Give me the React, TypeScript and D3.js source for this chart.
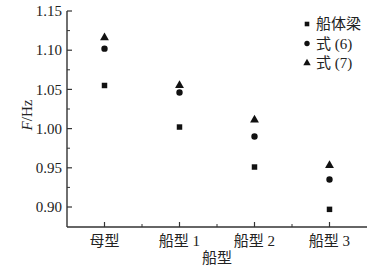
import React from 'react';
import * as d3 from 'd3';

const categories = ['母型', '船型 1', '船型 2', '船型 3'];
const seriesNames = ['船体梁', '式 (6)', '式 (7)'];
const hullBeam = [1.055, 1.002, 0.951, 0.897];
const formula6 = [1.102, 1.046, 0.99, 0.935];
const formula7 = [1.116, 1.055, 1.011, 0.953];
const yTicks = [0.9, 0.95, 1.0, 1.05, 1.1, 1.15];
const yMinorTicks = [0.925, 0.975, 1.025, 1.075, 1.125];

const W = 386;
const H = 268;
const margin = { left: 67, right: 19, top: 11, bottom: 41 };
const font = '"Liberation Serif", "Noto Sans CJK SC", serif';

export default function App() {
  const x = d3
    .scaleBand()
    .domain(categories)
    .range([margin.left, W - margin.right])
    .padding(0);
  const y = d3
    .scaleLinear()
    .domain([0.8745, 1.15])
    .range([H - margin.bottom, margin.top]);

  const shapes = [d3.symbolSquare, d3.symbolCircle, d3.symbolTriangle];
  const sizes = [30, 32, 34];
  const series = [hullBeam, formula6, formula7];
  const sym = (i: number) => d3.symbol().type(shapes[i]).size(sizes[i])() as string;
  const legSym = (i: number) => d3.symbol().type(shapes[i]).size(sizes[i] * 0.7)() as string;

  const x0 = margin.left;
  const x1 = W - margin.right;
  const yb = H - margin.bottom;
  const axisColor = '#333';
  const bounds = categories.map((c) => x(c)!).concat([x1]);

  return (
    <svg width={W} height={H} style={{ position: 'absolute', left: 0, top: 0, background: '#fff' }}>
      {/* axes */}
      <line x1={x0} x2={x0} y1={margin.top} y2={yb} stroke={axisColor} strokeWidth={1.4} />
      <line x1={x0} x2={x1} y1={yb} y2={yb} stroke={axisColor} strokeWidth={1.4} />
      {yTicks.map((t) => (
        <g key={t}>
          <line x1={x0} x2={x0 + 5} y1={y(t)} y2={y(t)} stroke={axisColor} strokeWidth={1.2} />
          <text x={x0 - 5} y={y(t)} dy="0.35em" textAnchor="end" fontFamily={font} fontSize={15} fill="#222">
            {t.toFixed(2)}
          </text>
        </g>
      ))}
      {yMinorTicks.map((t) => (
        <line key={t} x1={x0} x2={x0 + 3} y1={y(t)} y2={y(t)} stroke={axisColor} strokeWidth={1} />
      ))}
      {categories.map((c) => {
        const cx = x(c)! + x.bandwidth() / 2;
        return (
          <g key={c}>
            <line x1={cx} x2={cx} y1={yb} y2={yb - 5} stroke={axisColor} strokeWidth={1.2} />
            <text x={cx} y={yb + 14} dy="0.35em" textAnchor="middle" fontFamily={font} fontSize={15} fill="#222">
              {c}
            </text>
          </g>
        );
      })}
      {bounds.slice(1, -1).map((b, i) => (
        <line key={i} x1={b} x2={b} y1={yb} y2={yb - 3} stroke={axisColor} strokeWidth={1} />
      ))}
      <text x={(x0 + x1) / 2} y={yb + 31} dy="0.35em" textAnchor="middle" fontFamily={font} fontSize={15} fill="#222">
        船型
      </text>
      <text
        transform={`translate(27, ${(margin.top + yb) / 2 - 4}) rotate(-90)`}
        textAnchor="middle"
        dy="0.35em"
        fontFamily={font}
        fontSize={15}
        fill="#222"
      >
        <tspan fontStyle="italic">F</tspan>/Hz
      </text>

      {/* points */}
      {series.map((vals, si) =>
        vals.map((v, ci) => (
          <path
            key={`${si}-${ci}`}
            d={sym(si)}
            transform={`translate(${x(categories[ci])! + x.bandwidth() / 2}, ${y(v)})`}
            fill="#111"
          />
        ))
      )}

      {/* legend */}
      {seriesNames.map((n, i) => (
        <g key={n} transform={`translate(307, ${24 + i * 19.5})`}>
          <path d={legSym(i)} fill="#111" />
          <text x={9} dy="0.35em" fontFamily={font} fontSize={15} fill="#222">
            {n}
          </text>
        </g>
      ))}
    </svg>
  );
}
